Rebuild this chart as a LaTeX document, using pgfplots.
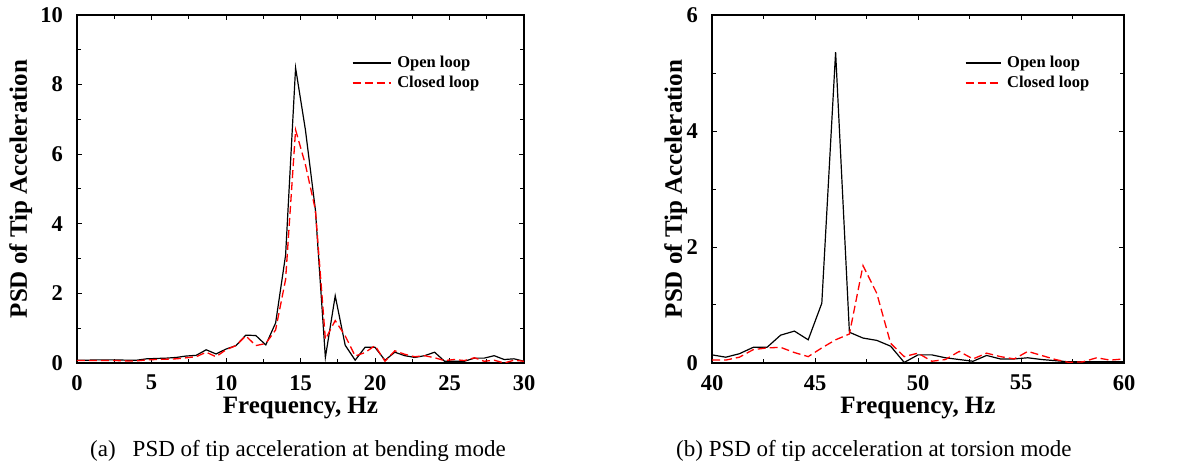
\documentclass[border=0pt]{standalone}
\usepackage{fontspec}
\setmainfont{Liberation Serif}
\usepackage{pgfplots}
\pgfplotsset{compat=1.18}
\usepackage{pgfplotstable}

% bending mode: frequency, open loop, closed loop
\pgfplotstableread{
f open closed
0.00 0.08 0.07
0.67 0.08 0.07
1.33 0.09 0.07
2.00 0.09 0.07
2.67 0.09 0.07
3.33 0.08 0.06
4.00 0.08 0.06
4.67 0.12 0.09
5.33 0.13 0.10
6.00 0.14 0.11
6.67 0.16 0.12
7.33 0.20 0.15
8.00 0.22 0.18
8.67 0.38 0.31
9.33 0.26 0.18
10.00 0.40 0.38
10.67 0.50 0.50
11.33 0.80 0.78
12.00 0.79 0.50
12.67 0.52 0.56
13.33 1.15 0.95
14.00 3.10 2.40
14.67 8.48 6.70
15.33 6.70 5.70
16.00 4.40 4.40
16.67 0.16 0.68
17.33 1.93 1.22
18.00 0.51 0.78
18.67 0.08 0.20
19.33 0.45 0.30
20.00 0.45 0.50
20.67 0.08 0.05
21.33 0.31 0.35
22.00 0.21 0.25
22.67 0.16 0.18
23.33 0.21 0.21
24.00 0.31 0.15
24.67 0.05 0.07
25.33 0.05 0.10
26.00 0.05 0.07
26.67 0.14 0.15
27.33 0.14 0.05
28.00 0.21 0.08
28.67 0.10 0.00
29.33 0.12 0.08
30.00 0.05 0.05
}\bendtab

% torsion mode
\pgfplotstableread{
f open closed
40.00 0.14 0.05
40.67 0.10 0.05
41.33 0.16 0.10
42.00 0.27 0.23
42.67 0.27 0.26
43.33 0.48 0.27
44.00 0.55 0.18
44.67 0.40 0.11
45.33 1.03 0.26
46.00 5.36 0.40
46.67 0.53 0.50
47.33 0.43 1.68
48.00 0.39 1.20
48.67 0.29 0.34
49.33 0.01 0.11
50.00 0.14 0.17
50.67 0.14 0.03
51.33 0.09 0.06
52.00 0.06 0.20
52.67 0.03 0.07
53.33 0.13 0.17
54.00 0.07 0.11
54.67 0.07 0.07
55.33 0.09 0.20
56.00 0.06 0.13
56.67 0.04 0.06
57.33 0.02 0.01
58.00 0.02 0.02
58.67 0.02 0.09
59.33 0.02 0.05
60.00 0.02 0.07
}\torstab

\pgfplotsset{
  psd/.style={
    scale only axis, height=348pt,
    axis line style={line width=1.3pt},
    tick style={line width=1pt, black},
    major tick length=5pt, minor tick length=4pt,
    xtick distance=5, minor x tick num=1, minor y tick num=1,
    /pgf/number format/assume math mode=true,
    ticklabel style={font=\fontsize{22.5}{22.5}\selectfont\bfseries},
    xticklabel style={inner sep=0pt, yshift=-12pt},
    yticklabel style={inner sep=0pt, xshift=-14pt},
    label style={font=\fontsize{25}{25}\selectfont\bfseries, inner sep=0pt},
    xlabel={Frequency, Hz},
    ylabel={PSD of Tip Acceleration},
    xlabel style={at={(axis description cs:0.5,-0.146)}, anchor=base},
    legend style={draw=none, fill=none, anchor=north west,
      font=\fontsize{16.5}{16.5}\selectfont\bfseries, row sep=3pt,
      nodes={inner xsep=6pt}},
    legend cell align=left,
  },
  openl/.style={black, line width=1.2pt},
  closedl/.style={red, line width=1.3pt, dash pattern=on 8pt off 4pt},
}

\begin{document}
\begin{tikzpicture}[x=1pt,y=1pt]
\path[use as bounding box] (0,0) rectangle (1186,463);

\begin{axis}[psd, at={(77pt,100pt)}, width=447pt,
  xmin=0, xmax=30, ymin=0, ymax=10, ytick={0,2,...,10},
  ylabel style={at={(axis description cs:-0.112,0.5)}, anchor=base},
  legend style={at={(axis description cs:0.608,0.893)}},
  legend image code/.code={\draw[#1] (0pt,0pt) -- (38pt,0pt);}]
\addplot[openl] table[x=f, y=open] {\bendtab};
\addlegendentry{Open loop}
\addplot[closedl] table[x=f, y=closed] {\bendtab};
\addlegendentry{Closed loop}
\end{axis}

\begin{axis}[psd, at={(712pt,100pt)}, width=412pt,
  xmin=40, xmax=60, ymin=0, ymax=6, ytick={0,2,...,6},
  ylabel style={at={(axis description cs:-0.073,0.5)}, anchor=base},
  legend style={at={(axis description cs:0.606,0.893)}},
  legend image code/.code={\draw[#1] (0pt,0pt) -- (35pt,0pt);}]
\addplot[openl] table[x=f, y=open] {\torstab};
\addlegendentry{Open loop}
\addplot[closedl] table[x=f, y=closed] {\torstab};
\addlegendentry{Closed loop}
\end{axis}

\node[anchor=base west, inner sep=0pt, font=\fontsize{23}{23}\selectfont]
  at (90,6) {(a)\hspace{17pt}PSD of tip acceleration at bending mode};
\node[anchor=base west, inner sep=0pt, font=\fontsize{23}{23}\selectfont]
  at (676,6) {(b) PSD of tip acceleration at torsion mode};
\end{tikzpicture}
\end{document}
